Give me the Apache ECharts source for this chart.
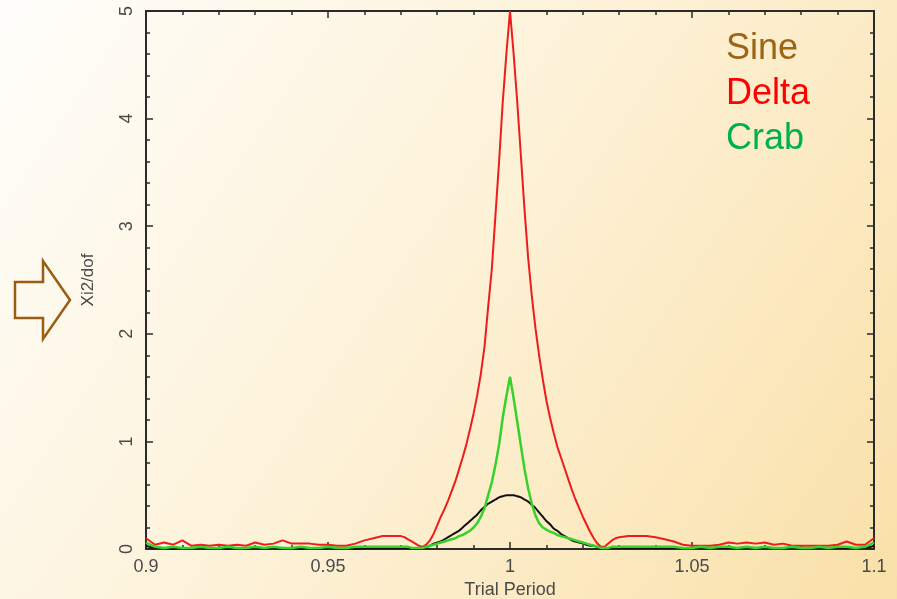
<!DOCTYPE html>
<html>
<head>
<meta charset="utf-8">
<script src="https://cdn.jsdelivr.net/npm/echarts@6/dist/echarts.min.js"></script>
<style>
  html, body { margin: 0; padding: 0; }
  #chart { width: 897px; height: 599px; }
</style>
</head>
<body>
<div id="chart"></div>
<script>
// Trial period samples: coarse in the noisy tails, 0.001 steps around the peak.
const period = [
  0.9, 0.9025, 0.905, 0.9075, 0.91, 0.9125, 0.915, 0.9175, 0.92, 0.9225,
  0.925, 0.9275, 0.93, 0.9325, 0.935, 0.9375, 0.94, 0.9425, 0.945, 0.9475,
  0.95, 0.9525, 0.955, 0.9575, 0.96, 0.9625, 0.965, 0.9675,
  0.970, 0.971, 0.972, 0.973, 0.974, 0.975, 0.976, 0.977, 0.978, 0.979,
  0.980, 0.981, 0.982, 0.983, 0.984, 0.985, 0.986, 0.987, 0.988, 0.989,
  0.990, 0.991, 0.992, 0.993, 0.994, 0.995, 0.996, 0.997, 0.998, 0.999,
  1.000,
  1.001, 1.002, 1.003, 1.004, 1.005, 1.006, 1.007, 1.008, 1.009, 1.010,
  1.011, 1.012, 1.013, 1.014, 1.015, 1.016, 1.017, 1.018, 1.019, 1.020,
  1.021, 1.022, 1.023, 1.024, 1.025, 1.026, 1.027, 1.028, 1.029, 1.030,
  1.0325, 1.035, 1.0375, 1.04, 1.0425, 1.045, 1.0475, 1.05, 1.0525, 1.055,
  1.0575, 1.06, 1.0625, 1.065, 1.0675, 1.07, 1.0725, 1.075, 1.0775, 1.08,
  1.0825, 1.085, 1.0875, 1.09, 1.0925, 1.095, 1.0975, 1.1
];

const sine = [
  0.03, 0.01, 0.01, 0.00, 0.01, 0.00, 0.01, 0.00, 0.01, 0.00,
  0.01, 0.00, 0.01, 0.00, 0.01, 0.00, 0.01, 0.00, 0.01, 0.00,
  0.01, 0.00, 0.01, 0.00, 0.01, 0.01, 0.01, 0.01,
  0.01, 0.01, 0.01, 0.01, 0.00, 0.00, 0.01, 0.02, 0.03, 0.05,
  0.06, 0.07, 0.09, 0.11, 0.13, 0.15, 0.17, 0.20, 0.23, 0.26,
  0.29, 0.32, 0.36, 0.39, 0.42, 0.44, 0.46, 0.48, 0.49, 0.50,
  0.50,
  0.50, 0.49, 0.48, 0.46, 0.44, 0.41, 0.38, 0.34, 0.30, 0.26,
  0.23, 0.19, 0.17, 0.14, 0.12, 0.10, 0.08, 0.07, 0.06, 0.05,
  0.04, 0.03, 0.03, 0.02, 0.01, 0.01, 0.01, 0.01, 0.01, 0.01,
  0.01, 0.01, 0.01, 0.01, 0.01, 0.01, 0.01, 0.01, 0.01, 0.01,
  0.01, 0.01, 0.01, 0.01, 0.01, 0.01, 0.01, 0.01, 0.01, 0.01,
  0.01, 0.01, 0.01, 0.01, 0.01, 0.01, 0.01, 0.03
];

const delta = [
  0.10, 0.04, 0.06, 0.04, 0.08, 0.03, 0.04, 0.03, 0.04, 0.03,
  0.04, 0.03, 0.06, 0.04, 0.05, 0.08, 0.05, 0.05, 0.05, 0.04,
  0.04, 0.03, 0.03, 0.05, 0.08, 0.10, 0.12, 0.12,
  0.12, 0.11, 0.09, 0.07, 0.05, 0.03, 0.02, 0.04, 0.08, 0.14,
  0.22, 0.30, 0.37, 0.45, 0.54, 0.63, 0.74, 0.85, 0.97, 1.11,
  1.26, 1.43, 1.63, 1.88, 2.25, 2.60, 3.10, 3.60, 4.15, 4.60,
  5.00,
  4.60, 4.15, 3.65, 3.15, 2.70, 2.35, 2.05, 1.80, 1.58, 1.38,
  1.22, 1.08, 0.95, 0.85, 0.75, 0.65, 0.55, 0.46, 0.38, 0.30,
  0.23, 0.16, 0.10, 0.05, 0.02, 0.02, 0.05, 0.08, 0.10, 0.11,
  0.12, 0.12, 0.12, 0.11, 0.09, 0.07, 0.04, 0.03, 0.03, 0.03,
  0.04, 0.06, 0.05, 0.06, 0.05, 0.06, 0.04, 0.05, 0.03, 0.03,
  0.03, 0.03, 0.03, 0.04, 0.07, 0.04, 0.04, 0.10
];

const crab = [
  0.06, 0.02, 0.01, 0.02, 0.01, 0.01, 0.02, 0.01, 0.01, 0.02,
  0.01, 0.01, 0.02, 0.01, 0.02, 0.01, 0.01, 0.02, 0.01, 0.01,
  0.02, 0.01, 0.01, 0.02, 0.02, 0.02, 0.02, 0.02,
  0.02, 0.02, 0.02, 0.01, 0.01, 0.01, 0.01, 0.02, 0.03, 0.04,
  0.05, 0.06, 0.07, 0.08, 0.09, 0.10, 0.12, 0.13, 0.15, 0.17,
  0.20, 0.24, 0.30, 0.38, 0.50, 0.62, 0.78, 0.97, 1.22, 1.42,
  1.60,
  1.40, 1.18, 0.96, 0.74, 0.56, 0.42, 0.31, 0.24, 0.20, 0.18,
  0.16, 0.15, 0.13, 0.12, 0.11, 0.10, 0.09, 0.08, 0.07, 0.06,
  0.05, 0.04, 0.03, 0.02, 0.01, 0.01, 0.01, 0.02, 0.02, 0.02,
  0.02, 0.02, 0.02, 0.02, 0.02, 0.02, 0.01, 0.01, 0.02, 0.01,
  0.02, 0.02, 0.01, 0.02, 0.01, 0.02, 0.01, 0.01, 0.02, 0.01,
  0.01, 0.02, 0.01, 0.02, 0.02, 0.01, 0.02, 0.06
];

const legendNames = ["Sine", "Delta", "Crab"];
const legendColors = ["#9c6414", "#ff0000", "#00b04f"];

const FONT = "Liberation Sans, Arial, sans-serif";
const AXIS_COLOR = "#2b2b2b";
const LABEL_COLOR = "#4a4a4a";

function pairs(ys) {
  return period.map((x, i) => [x, ys[i]]);
}

function frameAxis(extra) {
  return Object.assign({
    type: "value",
    axisLine: { show: true, onZero: false, lineStyle: { color: AXIS_COLOR, width: 2 } },
    axisTick: { show: true, inside: true, length: 7, lineStyle: { color: AXIS_COLOR, width: 1.5 } },
    minorTick: { show: true, splitNumber: 5, length: 4, lineStyle: { color: AXIS_COLOR, width: 1.5 } },
    splitLine: { show: false },
    minorSplitLine: { show: false },
  }, extra);
}

const chart = echarts.init(document.getElementById("chart"), null, { renderer: "canvas" });

const xBase = { min: 0.9, max: 1.1, interval: 0.05 };
const yBase = { min: 0, max: 5, interval: 1 };

chart.setOption({
  animation: false,
  backgroundColor: {
    type: "linear", x: 0, y: 0, x2: 1, y2: 1,
    colorStops: [
      { offset: 0, color: "#fffefb" },
      { offset: 0.5, color: "#fdf1d6" },
      { offset: 1, color: "#f9e0a8" },
    ],
  },
  // fixed plot box; don't let v6 shrink it to fit the axis titles
  grid: { left: 146, right: 23, top: 11, bottom: 50, outerBoundsMode: "none", containLabel: false },
  xAxis: [
    frameAxis(Object.assign({}, xBase, {
      position: "bottom",
      name: "Trial Period",
      nameLocation: "middle",
      nameGap: 32,
      nameTextStyle: { color: LABEL_COLOR, fontSize: 18, fontFamily: FONT },
      axisLabel: { color: LABEL_COLOR, fontSize: 18, fontFamily: FONT, margin: 9 },
    })),
    frameAxis(Object.assign({}, xBase, {
      position: "top",
      axisLabel: { show: false },
    })),
  ],
  yAxis: [
    frameAxis(Object.assign({}, yBase, {
      position: "left",
      name: "Xi2/dof",
      nameLocation: "middle",
      nameGap: 49,
      nameRotate: 90,
      nameTextStyle: { color: LABEL_COLOR, fontSize: 17, fontFamily: FONT },
      axisLabel: { color: LABEL_COLOR, fontSize: 18, fontFamily: FONT, rotate: 90, margin: 10 },
    })),
    frameAxis(Object.assign({}, yBase, {
      position: "right",
      axisLabel: { show: false },
    })),
  ],
  series: [
    {
      name: "Sine", type: "line", data: pairs(sine), showSymbol: false, smooth: 0.3,
      lineStyle: { color: "#111", width: 2 }, z: 2,
    },
    {
      name: "Delta", type: "line", data: pairs(delta), showSymbol: false,
      lineStyle: { color: "#ee1c1c", width: 2 }, z: 3,
    },
    {
      name: "Crab", type: "line", data: pairs(crab), showSymbol: false,
      lineStyle: { color: "#36d22a", width: 2.5 }, z: 4,
    },
  ],
  graphic: [
    // hollow arrow pointing at the y axis title
    {
      type: "polygon",
      shape: { points: [[15, 282], [43, 282], [43, 261], [70, 300], [43, 339], [43, 318], [15, 318]] },
      style: { fill: "none", stroke: "#9a5e12", lineWidth: 2.5 },
    },
  ].concat(legendNames.map((name, i) => ({
    type: "text",
    left: 726,
    top: 31 + i * 45,
    style: {
      text: name,
      fill: legendColors[i],
      font: "36px " + FONT,
    },
  }))),
});

window.addEventListener("resize", () => chart.resize());
</script>
</body>
</html>
